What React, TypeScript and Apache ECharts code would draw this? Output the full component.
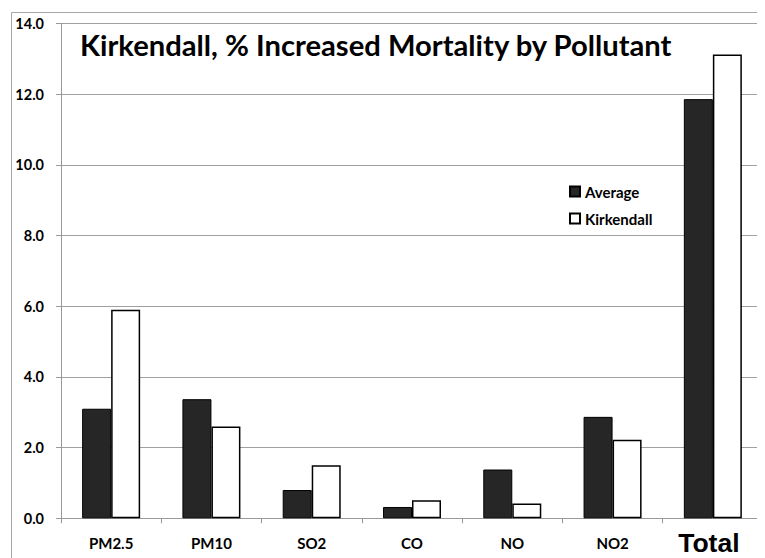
import React, { useEffect, useRef } from "react";
import * as echarts from "echarts";

const categories = ["PM2.5", "PM10", "SO2", "CO", "NO", "NO2", "Total"];
const averageValues = [3.1, 3.37, 0.8, 0.32, 1.38, 2.87, 11.86];
const kirkendallValues = [5.9, 2.6, 1.5, 0.51, 0.42, 2.22, 13.12];
const titleText = "Kirkendall, % Increased Mortality by Pollutant";

export default function App() {
  const ref = useRef<HTMLDivElement>(null);
  useEffect(() => {
    if (!ref.current) return;
    const chart = echarts.init(ref.current, null, { renderer: "svg" });
    const font = "Lato";
    chart.setOption({
      animation: false,
      backgroundColor: "#ffffff",
      title: {
        text: titleText,
        left: 72,
        top: 22,
        padding: 0,
        textStyle: { fontFamily: font, fontWeight: "bold", fontSize: 29.2, color: "#000" },
      },
      legend: {
        orient: "vertical",
        left: 556,
        top: 171,
        itemWidth: 10,
        itemHeight: 10,
        itemGap: 12,
        icon: "rect",
        textStyle: { fontFamily: font, fontWeight: "bold", fontSize: 15, color: "#000" },
        data: ["Average", "Kirkendall"],
      },
      graphic: [
        {
          type: "rect",
          shape: { x: 3.5, y: 4.5, width: 900, height: 900 },
          style: { fill: "none", stroke: "#a6a6a6", lineWidth: 1 },
          silent: true,
        },
      ],
      grid: { left: 53, right: 2, top: 15.5, bottom: 39.7, containLabel: false },
      xAxis: {
        type: "category",
        data: categories,
        axisLine: { show: true, lineStyle: { color: "#999", width: 1 } },
        axisTick: { show: true, length: 5, lineStyle: { color: "#999" } },
        axisLabel: {
          margin: 10,
          formatter: (v: string) => (v === "Total" ? `{big|${v}}` : `{n|${v}}`),
          rich: {
            n: { fontFamily: font, fontWeight: "bold", fontSize: 15, color: "#000", lineHeight: 30 },
            big: { fontFamily: "Liberation Sans", fontWeight: "bold", fontSize: 26.5, color: "#000", lineHeight: 30, padding: [0, 8, 0, 0] },
          },
        },
      },
      yAxis: {
        type: "value",
        min: 0,
        max: 14,
        interval: 2,
        axisLine: { show: true, lineStyle: { color: "#999", width: 1 } },
        axisTick: { show: true, length: 5, lineStyle: { color: "#999" } },
        splitLine: { show: true, lineStyle: { color: "#a0a0a0", width: 1 } },
        axisLabel: {
          margin: 17,
          formatter: (v: number) => v.toFixed(1),
          fontFamily: font,
          fontWeight: "bold",
          fontSize: 14.5,
          color: "#000",
        },
      },
      series: [
        {
          name: "Average",
          type: "bar",
          data: averageValues,
          barWidth: 29,
          barGap: "0%",
          itemStyle: { color: "#262626", borderColor: "#000", borderWidth: 1 },
        },
        {
          name: "Kirkendall",
          type: "bar",
          data: kirkendallValues,
          barWidth: 29,
          barGap: "0%",
          itemStyle: { color: "#ffffff", borderColor: "#000", borderWidth: 1.5 },
        },
      ],
    });
    return () => chart.dispose();
  }, []);
  return <div ref={ref} style={{ width: 757, height: 550 }} />;
}
